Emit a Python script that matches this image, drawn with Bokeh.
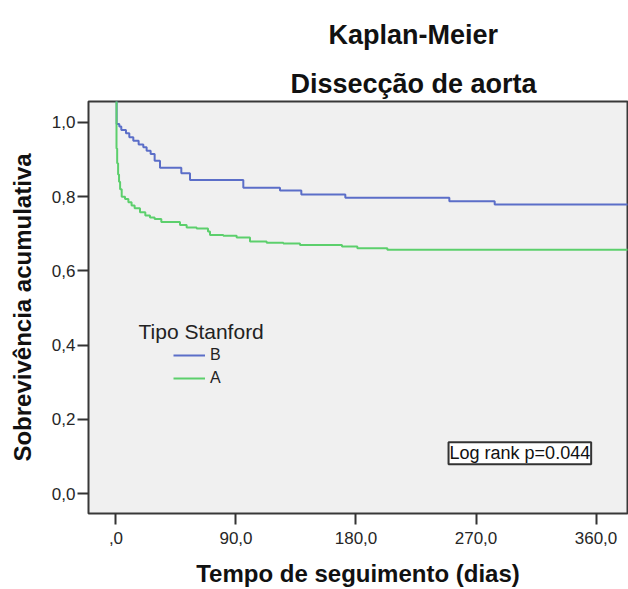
from bokeh.plotting import figure
from bokeh.models import Range1d, FixedTicker, Label, Title
from bokeh.embed import file_html
from bokeh.resources import INLINE

# ---- data (days, cumulative survival) ----
# first point is where the drawn curve enters from the top of the frame
b_days = [0, 0.5, 2.5, 4, 7.5, 10, 13, 17, 20.5, 23, 26, 29, 33, 49, 55.5,
          95.5, 123, 139, 172, 250, 284, 384]
b_surv = [1.06, 0.996, 0.989, 0.980, 0.971, 0.960, 0.951, 0.941, 0.933, 0.924,
          0.915, 0.897, 0.878, 0.863, 0.845, 0.824, 0.817, 0.806, 0.797,
          0.788, 0.779, 0.779]

a_days = [0, 0.4, 0.9, 1.6, 2.3, 3.1, 4.3, 6.8, 9.3, 11.7, 14, 18, 22, 25.5,
          29, 34, 48, 53, 60.5, 69, 70.5, 80.5, 90.5, 100.5, 113, 125.5, 138,
          169.5, 181, 203.5, 384]
a_surv = [1.06, 0.93, 0.89, 0.86, 0.84, 0.82, 0.800, 0.794, 0.785, 0.776,
          0.769, 0.758, 0.749, 0.744, 0.740, 0.732, 0.724, 0.717, 0.714,
          0.706, 0.697, 0.695, 0.690, 0.679, 0.676, 0.674, 0.670, 0.666,
          0.661, 0.657, 0.657]

series_names = ["B", "A"]
legend_title = "Tipo Stanford"
stat_text = "Log rank p=0.044"
title_lines = ["Kaplan-Meier", "Dissecção de aorta"]

x_ticks = [0, 90, 180, 270, 360]
x_tick_labels = [",0", "90,0", "180,0", "270,0", "360,0"]
y_ticks = [0.0, 0.2, 0.4, 0.6, 0.8, 1.0]
y_tick_labels = ["0,0", "0,2", "0,4", "0,6", "0,8", "1,0"]

FONT = "Liberation Sans"
BLUE = "#5b6ec8"
GREEN = "#5ccf6c"

p = figure(width=628, height=589, output_backend="svg", toolbar_location=None,
           x_range=Range1d(-20.6, 383.6), y_range=Range1d(-0.0539, 1.0566),
           min_border_left=88, min_border_right=1, min_border_top=101,
           min_border_bottom=76,
           background_fill_color="#f0f0f0", border_fill_color="white",
           outline_line_color="#383838", outline_line_width=2)
p.xgrid.grid_line_color = None
p.ygrid.grid_line_color = None

rb = p.step(b_days, b_surv, mode="after", line_color=BLUE, line_width=2,
            legend_label=series_names[0])
ra = p.step(a_days, a_surv, mode="after", line_color=GREEN, line_width=2,
            legend_label=series_names[1])

for ax in (p.xaxis, p.yaxis):
    ax.axis_line_color = None
    ax.major_tick_in = 0
    ax.minor_tick_line_color = None
    ax.major_tick_line_color = "#333333"
    ax.major_tick_line_width = 2
    ax.major_label_text_font = FONT
    ax.major_label_text_font_size = "17px"
    ax.major_label_text_color = "#262626"
    ax.axis_label_text_font = FONT
    ax.axis_label_text_font_size = "24px"
    ax.axis_label_text_font_style = "bold"
    ax.axis_label_text_color = "#111111"

p.xaxis.ticker = FixedTicker(ticks=x_ticks)
p.xaxis.major_label_overrides = dict(zip(x_ticks, x_tick_labels))
p.xaxis.major_tick_out = 11
p.xaxis.major_label_standoff = 7
p.xaxis.axis_label = "Tempo de seguimento (dias)"
p.xaxis.axis_label_standoff = 13

p.yaxis.ticker = FixedTicker(ticks=y_ticks)
p.yaxis.major_label_overrides = dict(zip(y_ticks, y_tick_labels))
p.yaxis.major_tick_out = 11
p.yaxis.major_label_standoff = 2
p.yaxis.axis_label = "Sobrevivência acumulativa"
p.yaxis.axis_label_standoff = 13

lg = p.legend[0]
lg.location = (85, 125)
lg.padding = 0
lg.margin = 0
lg.spacing = 3
lg.glyph_width = 32
lg.glyph_height = 20
lg.label_height = 20
lg.label_standoff = 5
lg.label_text_font = FONT
lg.label_text_font_size = "16px"
lg.label_text_color = "#222222"
lg.background_fill_alpha = 0
lg.border_line_color = None

p.add_layout(Label(x=16.9, y=0.4375, text=legend_title, text_font=FONT,
                   text_font_size="21px", text_color="#222222",
                   text_baseline="alphabetic"))

p.add_layout(Label(x=249.4, y=0.1084, text=stat_text, text_font=FONT,
                   text_font_size="18px", text_color="#111111",
                   text_baseline="middle", text_align="left",
                   background_fill_color="white",
                   border_line_color="#333333", border_line_width=2,
                   padding=1))

# titles: the one added first sits closest to the frame
p.add_layout(Title(text=title_lines[1], align="left", offset=202,
                   standoff=5, text_font=FONT, text_font_size="27px",
                   text_font_style="bold", text_color="#111111"), "above")
p.add_layout(Title(text=title_lines[0], align="left", offset=240,
                   standoff=29, text_font=FONT, text_font_size="27px",
                   text_font_style="bold", text_color="#111111"), "above")

open("out.html", "w").write(file_html(p, INLINE))
